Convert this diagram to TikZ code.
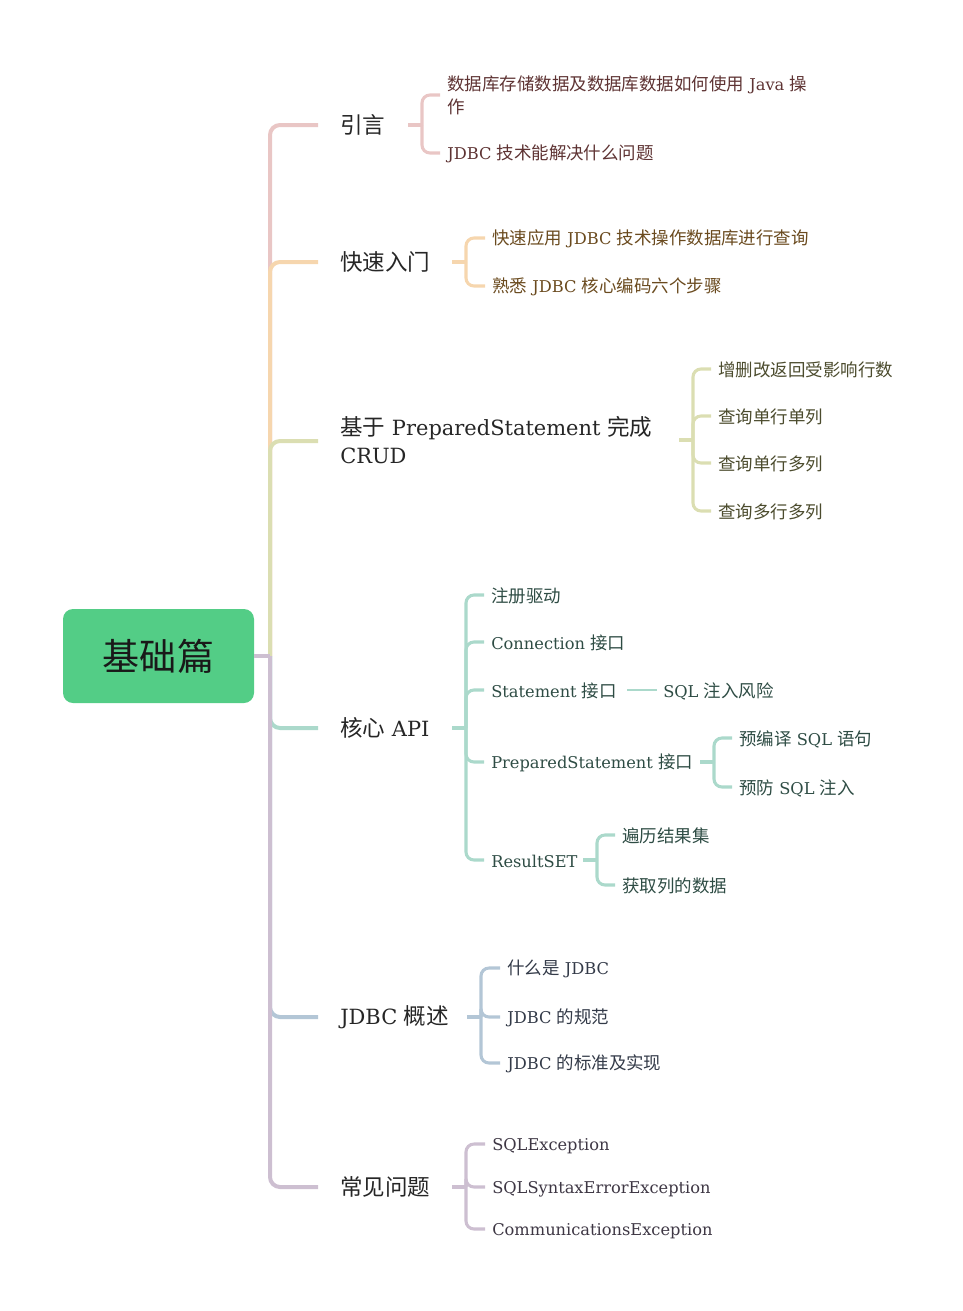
\documentclass[tikz,border=0pt]{standalone}
\usepackage{fontspec}
\setmainfont{DejaVu Serif}[Scale=0.93]
\newfontfamily\zhf{Noto Sans CJK SC}
\usetikzlibrary{calc}
\newcommand\zht[1]{{\zhf #1}}
\newcommand\cjkh{0.88em}
\newcommand\cjkstrut{{\zhf\rule[-0.12em]{0pt}{\cjkh}}}
\definecolor{cRoot}{HTML}{53CD86}
\definecolor{lA}{HTML}{E9C6C5}
\definecolor{lB}{HTML}{F6D6AE}
\definecolor{lC}{HTML}{DBDEB2}
\definecolor{lD}{HTML}{ABD9CB}
\definecolor{lE}{HTML}{B3C6D6}
\definecolor{lF}{HTML}{CDBFD1}
\definecolor{tA}{HTML}{5E3333}
\definecolor{tB}{HTML}{6A4A1E}
\definecolor{tC}{HTML}{4B4B2D}
\definecolor{tD}{HTML}{2E4C44}
\definecolor{tE}{HTML}{333A48}
\definecolor{tF}{HTML}{3E3744}
\definecolor{tBr}{HTML}{262626}
\tikzset{
  rootbox/.style={fill=cRoot, rounded corners=7.5pt, minimum width=143.25pt, minimum height=70.5pt, inner sep=0pt, text=black!90, font=\fontsize{27.8pt}{30pt}\selectfont},
  brlabel/.style={anchor=west, inner sep=0pt, align=left, text=tBr, font=\fontsize{16.9pt}{21pt}\selectfont\def\cjkh{0.96em}},
  leaf/.style={anchor=west, inner sep=0pt, align=left, font=\fontsize{13.1pt}{17.25pt}\selectfont\def\cjkh{1.08em}},
  trunk/.style={line width=3pt, rounded corners=7.5pt},
  sub/.style={line width=2.3pt, rounded corners=6pt},
}
\begin{document}
\begin{tikzpicture}[x=0.75pt,y=-0.75pt]
\useasboundingbox (0,0) rectangle (963,1311);
% root
\node[rootbox] (root) at (158.5,656) {\zht{基础篇}};
% branch labels
\node[brlabel] (b1) at (340,125) {\cjkstrut\zht{引言}};
\node[brlabel] (b2) at (340,262) {\cjkstrut\zht{快速入门}};
\node[brlabel] (b3) at (340,441) {\cjkstrut\zht{基于} PreparedStatement \zht{完成}\\\cjkstrut CRUD};
\node[brlabel] (b4) at (340,728) {\cjkstrut\zht{核心} API};
\node[brlabel] (b5) at (340,1017) {\cjkstrut JDBC \zht{概述}};
\node[brlabel] (b6) at (340,1187) {\cjkstrut\zht{常见问题}};
% trunk
\coordinate (t) at (270,656);
\draw[trunk,lA] (t) |- ($(b1.west)+(-22,0)$);
\draw[trunk,lB] (t) |- ($(b2.west)+(-22,0)$);
\draw[trunk,lC] (t) |- ($(b3.west)+(-22,0)$);
\draw[trunk,lD] (t) |- ($(b4.west)+(-22,0)$);
\draw[trunk,lE] (t) |- ($(b5.west)+(-22,0)$);
\draw[trunk,lF] (t) |- ($(b6.west)+(-22,0)$);
\draw[line width=3pt,lF] (root.east) -- (t);

% ---- group A
\node[leaf,text=tA] (a1) at (447,95) {\cjkstrut\zht{数据库存储数据及数据库数据如何使用} Java \zht{操}\\\cjkstrut\zht{作}};
\node[leaf,text=tA] (a2) at (447,153) {\cjkstrut JDBC \zht{技术能解决什么问题}};
\coordinate (sA) at (408,125);
\coordinate (jA) at (422,125);
\draw[sub,lA] (sA) -- (jA);
\foreach \c in {a1,a2} \draw[sub,lA] (jA) |- ($(\c.west)+(-7,0)$);

% ---- group B
\node[leaf,text=tB] (bb1) at (492,238) {\cjkstrut\zht{快速应用} JDBC \zht{技术操作数据库进行查询}};
\node[leaf,text=tB] (bb2) at (492,286) {\cjkstrut\zht{熟悉} JDBC \zht{核心编码六个步骤}};
\coordinate (sB) at (452,262);
\coordinate (jB) at (466,262);
\draw[sub,lB] (sB) -- (jB);
\foreach \c in {bb1,bb2} \draw[sub,lB] (jB) |- ($(\c.west)+(-7,0)$);

% ---- group C
\node[leaf,text=tC] (c1) at (718,369) {\cjkstrut\zht{增删改返回受影响行数}};
\node[leaf,text=tC] (c2) at (718,416) {\cjkstrut\zht{查询单行单列}};
\node[leaf,text=tC] (c3) at (718,463) {\cjkstrut\zht{查询单行多列}};
\node[leaf,text=tC] (c4) at (718,511) {\cjkstrut\zht{查询多行多列}};
\coordinate (sC) at (679,440);
\coordinate (jC) at (693,440);
\draw[sub,lC] (sC) -- (jC);
\foreach \c in {c1,c2,c3,c4} \draw[sub,lC] (jC) |- ($(\c.west)+(-7,0)$);

% ---- group D
\node[leaf,text=tD] (d1) at (491,595) {\cjkstrut\zht{注册驱动}};
\node[leaf,text=tD] (d2) at (491,642) {\cjkstrut Connection \zht{接口}};
\node[leaf,text=tD] (d3) at (491,690) {\cjkstrut Statement \zht{接口}};
\node[leaf,text=tD] (d4) at (491,762) {\cjkstrut PreparedStatement \zht{接口}};
\node[leaf,text=tD] (d5) at (491,860) {\cjkstrut ResultSET};
\coordinate (sD) at (452,728);
\coordinate (jD) at (466,728);
\draw[sub,lD] (sD) -- (jD);
\foreach \c in {d1,d2,d3,d4,d5} \draw[sub,lD] (jD) |- ($(\c.west)+(-7,0)$);
% Statement child
\node[leaf,text=tD] (d31) at (663,690) {\cjkstrut SQL \zht{注入风险}};
\draw[sub,lD,line width=2pt] ($(d3.east)+(10,0)$) -- ($(d31.west)+(-6,0)$);
% PreparedStatement children
\node[leaf,text=tD] (d41) at (739,738) {\cjkstrut\zht{预编译} SQL \zht{语句}};
\node[leaf,text=tD] (d42) at (739,787) {\cjkstrut\zht{预防} SQL \zht{注入}};
\coordinate (sD4) at (700,762);
\coordinate (jD4) at (714,762);
\draw[sub,lD] (sD4) -- (jD4);
\foreach \c in {d41,d42} \draw[sub,lD] (jD4) |- ($(\c.west)+(-7,0)$);
% ResultSET children
\node[leaf,text=tD] (d51) at (622,835) {\cjkstrut\zht{遍历结果集}};
\node[leaf,text=tD] (d52) at (622,885) {\cjkstrut\zht{获取列的数据}};
\coordinate (sD5) at (583,860);
\coordinate (jD5) at (597,860);
\draw[sub,lD] (sD5) -- (jD5);
\foreach \c in {d51,d52} \draw[sub,lD] (jD5) |- ($(\c.west)+(-7,0)$);

% ---- group E
\node[leaf,text=tE] (e1) at (507,968) {\cjkstrut\zht{什么是} JDBC};
\node[leaf,text=tE] (e2) at (507,1017) {\cjkstrut JDBC \zht{的规范}};
\node[leaf,text=tE] (e3) at (507,1063) {\cjkstrut JDBC \zht{的标准及实现}};
\coordinate (sE) at (467,1017);
\coordinate (jE) at (481,1017);
\draw[sub,lE] (sE) -- (jE);
\foreach \c in {e1,e2,e3} \draw[sub,lE] (jE) |- ($(\c.west)+(-7,0)$);

% ---- group F
\node[leaf,text=tF] (f1) at (492,1144) {\cjkstrut SQLException};
\node[leaf,text=tF] (f2) at (492,1187) {\cjkstrut SQLSyntaxErrorException};
\node[leaf,text=tF] (f3) at (492,1229) {\cjkstrut CommunicationsException};
\coordinate (sF) at (452,1187);
\coordinate (jF) at (466,1187);
\draw[sub,lF] (sF) -- (jF);
\foreach \c in {f1,f2,f3} \draw[sub,lF] (jF) |- ($(\c.west)+(-7,0)$);
\end{tikzpicture}
\end{document}
